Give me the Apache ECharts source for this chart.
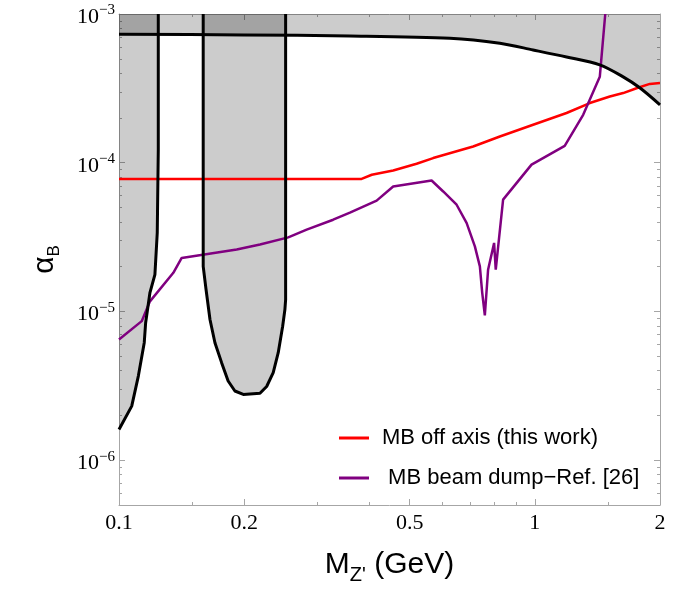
<!DOCTYPE html>
<html>
<head>
<meta charset="utf-8">
<script src="https://cdn.jsdelivr.net/npm/echarts@6/dist/echarts.min.js"></script>
<style>
  html, body { margin: 0; padding: 0; background: #fff; }
  #chart { width: 675px; height: 613px; }
</style>
</head>
<body>
<div id="chart"></div>
<script>
// excluded regions (black outlines, gray filling)
const leftX = [0.1, 0.1073, 0.1113, 0.115, 0.1159, 0.1187, 0.122, 0.1236, 0.1243, 0.1243]
const leftY = [1.61e-6, 2.31e-6, 3.68e-6, 6.17e-6, 8.4e-6, 1.34e-5, 1.77e-5, 3.39e-5, 1.22e-4, 1e-3]

const midX = [0.1594, 0.1594, 0.1619, 0.1655, 0.1701, 0.1765, 0.183, 0.19, 0.199, 0.2183, 0.2265, 0.2349, 0.2415, 0.2475, 0.2506, 0.2516, 0.2516]
const midY = [1e-3, 2.01e-5, 1.41e-5, 8.83e-6, 6.16e-6, 4.53e-6, 3.41e-6, 2.92e-6, 2.77e-6, 2.82e-6, 3.13e-6, 3.88e-6, 5.28e-6, 7.96e-6, 1.03e-5, 1.2e-5, 1e-3]

const topX = [0.1, 0.2, 0.3592, 0.6248, 0.824, 0.9906, 1.192, 1.433, 1.631, 1.788, 2.0]
const topY = [7.31e-4, 7.23e-4, 7.12e-4, 6.87e-4, 6.36e-4, 5.73e-4, 5.14e-4, 4.55e-4, 3.78e-4, 3.19e-4, 2.45e-4]

// MB off axis (this work)
const offAxisX = [0.1, 0.3832, 0.4054, 0.4564, 0.5196, 0.5696, 0.7107, 0.824, 0.9906, 1.192, 1.356, 1.515, 1.631, 1.756, 1.89, 2.0]
const offAxisY = [7.78e-5, 7.78e-5, 8.3e-5, 8.87e-5, 9.84e-5, 1.075e-4, 1.286e-4, 1.502e-4, 1.8e-4, 2.16e-4, 2.52e-4, 2.79e-4, 2.94e-4, 3.17e-4, 3.39e-4, 3.43e-4]

// MB beam dump - Ref. [26]
const beamDumpX = [0.1, 0.1134, 0.1187, 0.1351, 0.1415, 0.1919, 0.2183, 0.2553, 0.2827, 0.3274, 0.3592, 0.4165, 0.4564, 0.5646, 0.6021, 0.6485, 0.6853, 0.7175, 0.7376, 0.7472, 0.7582, 0.772, 0.7981, 0.8054, 0.8389, 0.982, 1.18, 1.307, 1.433, 1.477]
const beamDumpY = [6.49e-6, 8.61e-6, 1.17e-5, 1.82e-5, 2.29e-5, 2.61e-5, 2.82e-5, 3.15e-5, 3.55e-5, 4.14e-5, 4.62e-5, 5.56e-5, 6.93e-5, 7.6e-5, 6.41e-5, 5.22e-5, 3.94e-5, 2.74e-5, 2.01e-5, 1.34e-5, 9.4e-6, 1.91e-5, 2.89e-5, 1.91e-5, 5.65e-5, 9.71e-5, 1.3e-4, 2.1e-4, 3.78e-4, 1e-3]

// ticks
const xTicks = [0.1, 0.2, 0.5, 1, 2]
const xTickLabels = ['0.1', '0.2', '0.5', '1', '2']
const xMinorTicks = [0.15, 0.3, 0.4, 0.6, 0.7, 0.8, 0.9, 1.5]
const yTicks = [1e-6, 1e-5, 1e-4, 1e-3]
const yTickExp = ['6', '5', '4', '3']

const names = ['MB off axis (this work)', ' MB beam dump\u2212Ref. [26]']

const lg = Math.log10
const xMin = 0.1, xMax = 2, yMin = 5e-7, yMax = 1e-3

const yMinorTicks = []
for (let e = -7; e <= -4; e++) {
  for (let k = 2; k <= 9; k++) {
    const v = k * Math.pow(10, e)
    if (v > yMin * 0.999 && v < yMax) yMinorTicks.push(v)
  }
}

const pairs = (xs, ys) => xs.map((x, i) => [lg(x), lg(ys[i])])

const frameColor = '#a6a6a6'
const fillColor = 'rgba(0,0,0,0.2)'
const serif = 'Liberation Serif'
const sans = 'Liberation Sans'

const near = (vals, v) => vals.findIndex(t => Math.abs(lg(t) - v) < 1e-6)

const xAxisOf = (position, ticks, len, labels, line) => ({
  type: 'value',
  position,
  min: lg(xMin),
  max: lg(xMax),
  axisLine: {show: line, onZero: false, lineStyle: {color: frameColor, width: 1}},
  axisTick: {show: true, inside: true, length: len, customValues: ticks.map(lg), lineStyle: {color: frameColor}},
  axisLabel: labels ? {
    show: true,
    customValues: ticks.map(lg),
    margin: 7,
    fontFamily: serif,
    fontSize: 22,
    color: '#000',
    formatter: v => xTickLabels[near(ticks, v)] || '',
  } : {show: false},
  splitLine: {show: false},
})

const yAxisOf = (position, ticks, len, labels, line) => ({
  type: 'value',
  position,
  min: lg(yMin),
  max: lg(yMax),
  axisLine: {show: line, onZero: false, lineStyle: {color: frameColor, width: 1}},
  axisTick: {show: true, inside: true, length: len, customValues: ticks.map(lg), lineStyle: {color: frameColor}},
  axisLabel: labels ? {
    show: true,
    customValues: ticks.map(lg),
    margin: 4,
    formatter: v => `{b|10}{s|\u2212${yTickExp[near(ticks, v)]}}`,
    rich: {
      b: {fontFamily: serif, fontSize: 22, lineHeight: 22, color: '#000', padding: [6, 0, 0, 0]},
      s: {fontFamily: serif, fontSize: 15, lineHeight: 15, color: '#000', verticalAlign: 'top'},
    },
  } : {show: false},
  splitLine: {show: false},
})

const yLeft = yAxisOf('left', yTicks, 6, true, true)
yLeft.name = '{a|\u03b1}{b|B}'
yLeft.nameLocation = 'middle'
yLeft.nameRotate = 90
yLeft.nameGap = 51
yLeft.nameTextStyle = {
  rich: {
    a: {fontFamily: sans, fontSize: 30, lineHeight: 30, color: '#000', padding: [0, 0, 6, 0]},
    b: {fontFamily: sans, fontSize: 17, lineHeight: 17, color: '#000', verticalAlign: 'bottom'},
  },
}

const xBottom = xAxisOf('bottom', xTicks, 6, true, true)
xBottom.name = "{m|M}{z|Z'}{m| (GeV)}"
xBottom.nameLocation = 'middle'
xBottom.nameGap = 50
xBottom.nameTextStyle = {
  rich: {
    m: {fontFamily: sans, fontSize: 30, lineHeight: 30, color: '#000', padding: [0, 0, 10, 0]},
    z: {fontFamily: sans, fontSize: 20, lineHeight: 20, color: '#000', verticalAlign: 'bottom'},
  },
}

const areaSeries = (xs, ys) => ({
  type: 'line',
  data: pairs(xs, ys),
  showSymbol: false,
  symbol: 'none',
  lineStyle: {width: 0},
  areaStyle: {color: fillColor, origin: 'end', opacity: 1},
  z: 1,
  silent: true,
})

const edgeSeries = (xs, ys, smooth) => ({
  type: 'line',
  data: pairs(xs, ys),
  showSymbol: false,
  symbol: 'none',
  smooth: smooth || false,
  lineStyle: {color: '#000', width: 3},
  z: 4,
  silent: true,
})

const option = {
  animation: false,
  backgroundColor: '#fff',
  grid: {left: 119, right: 15, top: 14, bottom: 108, outerBoundsMode: 'none'},
  xAxis: [
    xBottom,
    xAxisOf('bottom', xMinorTicks, 3, false, false),
    xAxisOf('top', xTicks, 6, false, true),
    xAxisOf('top', xMinorTicks, 3, false, false),
  ],
  yAxis: [
    yLeft,
    yAxisOf('left', yMinorTicks, 3, false, false),
    yAxisOf('right', yTicks, 6, false, true),
    yAxisOf('right', yMinorTicks, 3, false, false),
  ],
  legend: {
    left: 339,
    top: 426,
    padding: 0,
    orient: 'vertical',
    icon: 'rect',
    itemWidth: 30,
    itemHeight: 3,
    itemGap: 16,
    selectedMode: false,
    textStyle: {fontFamily: sans, fontSize: 22, lineHeight: 24, color: '#000', padding: [0, 0, 0, 8]},
    data: names,
  },
  series: [
    areaSeries(leftX, leftY),
    areaSeries(midX, midY),
    areaSeries(topX, topY),
    {
      name: names[0],
      type: 'line',
      data: pairs(offAxisX, offAxisY),
      showSymbol: false,
      symbol: 'none',
      color: '#ff0000',
      lineStyle: {color: '#ff0000', width: 2.5},
      z: 2,
    },
    {
      name: names[1],
      type: 'line',
      data: pairs(beamDumpX, beamDumpY),
      showSymbol: false,
      symbol: 'none',
      color: '#800080',
      lineStyle: {color: '#800080', width: 2.5},
      z: 3,
    },
    edgeSeries(leftX, leftY),
    edgeSeries(midX, midY),
    edgeSeries(topX, topY, 0.3),
  ],
}

const chart = echarts.init(document.getElementById('chart'))
chart.setOption(option)
</script>
</body>
</html>
